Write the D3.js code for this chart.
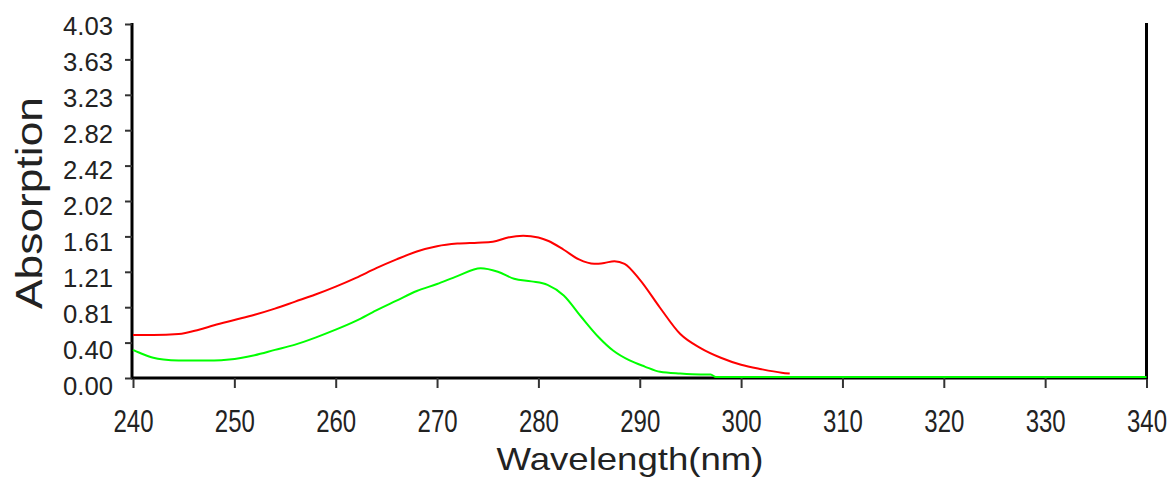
<!DOCTYPE html>
<html>
<head>
<meta charset="utf-8">
<script src="https://cdn.jsdelivr.net/npm/d3@7"></script>
<style>
  body { margin: 0; background: #fff; }
  text { font-family: Arial, "Liberation Sans", sans-serif; fill: #222; }
</style>
</head>
<body>
<svg id="chart" width="1171" height="484"></svg>
<script>
// tick values / labels
const xTicks = [240, 250, 260, 270, 280, 290, 300, 310, 320, 330, 340]
const yTickValues = [0, 0.403, 0.806, 1.209, 1.612, 2.015, 2.418, 2.821, 3.224, 3.627, 4.03]
const yTickLabels = ["0.00", "0.40", "0.81", "1.21", "1.61", "2.02", "2.42", "2.82", "3.23", "3.63", "4.03"]

// red spectrum
const redWave = [240, 242, 244.5, 246.5, 248, 250, 252, 254, 256, 258, 260, 262, 264, 266, 268,
    270, 272, 274, 275.5, 277, 278.5, 280, 281, 282.5, 284, 285.5, 286.5, 287.5, 288.5, 290, 292,
    294, 296, 298, 300, 302, 304, 304.8]
const redAbs = [0.49, 0.49, 0.50, 0.55, 0.60, 0.66, 0.72, 0.79, 0.87, 0.95, 1.04, 1.14, 1.25, 1.35, 1.44,
    1.50, 1.53, 1.54, 1.55, 1.60, 1.62, 1.60, 1.56, 1.46, 1.35, 1.30, 1.31, 1.33, 1.30, 1.12, 0.80,
    0.50, 0.34, 0.23, 0.15, 0.10, 0.06, 0.05]

// green spectrum
const greenWave = [240, 241, 242, 243, 244.5, 246, 248, 249.5, 252, 254, 256, 258, 260, 262, 264,
    266, 268, 270, 272, 274.3, 276, 277.6, 279.3, 280.9, 282.5, 284.2, 285.9, 287.4, 289, 290.5,
    292, 294, 296, 297, 297.5, 300, 310, 320, 330, 340]
const greenAbs = [0.32, 0.27, 0.23, 0.21, 0.20, 0.20, 0.20, 0.21, 0.26, 0.32, 0.38, 0.46, 0.55, 0.65, 0.77,
    0.88, 0.99, 1.07, 1.16, 1.25, 1.21, 1.13, 1.10, 1.06, 0.94, 0.70, 0.47, 0.31, 0.20, 0.13,
    0.07, 0.05, 0.04, 0.04, 0.01, 0.01, 0.01, 0.01, 0.01, 0.01]

const svg = d3.select('#chart')

let x = d3.scaleLinear().domain([240, 340]).range([133, 1146.5])
let y = d3.scaleLinear().domain([0, 4.03]).range([378, 24])
// the label column is spaced a little wider than the ticks in the original
let labelY = d3.scaleLinear().domain([0, 4.03]).range([386, 26.5])

// x axis
let xAxis = svg.append('g')
    .attr('transform', 'translate(0,378)')
    .call(d3.axisBottom(x).tickValues(xTicks).tickFormat(d3.format('d')).tickSize(10).tickSizeOuter(0).tickPadding(22))
xAxis.select('.domain').attr('stroke', '#000').attr('stroke-width', 3).attr('d', 'M131,0H1148')
xAxis.selectAll('.tick line').attr('stroke', '#333').attr('stroke-width', 2)
// labels in the original are drawn taller than they are wide
xAxis.selectAll('.tick text')
    .style('font-size', '24px')
    .attr('fill', '#333')
    .attr('y', 32 / 1.27)
    .attr('transform', 'scale(1,1.27)')

// y axis
let yAxis = svg.append('g')
    .attr('transform', 'translate(132,0)')
    .call(d3.axisLeft(y).tickValues(yTickValues).tickFormat((d, i) => yTickLabels[i]).tickSize(7).tickSizeOuter(0).tickPadding(12))
yAxis.select('.domain').attr('stroke', '#000').attr('stroke-width', 3).attr('d', 'M0,23V379')
yAxis.selectAll('.tick line').attr('stroke', '#333').attr('stroke-width', 2)
yAxis.selectAll('.tick text')
    .style('font-size', '25px')
    .attr('fill', '#333')
    .attr('y', d => labelY(d) - y(d))
    .attr('textLength', 50)
    .attr('lengthAdjust', 'spacingAndGlyphs')

// right frame line
svg.append('line')
    .attr('x1', x(340)).attr('x2', x(340))
    .attr('y1', 23).attr('y2', 379)
    .attr('stroke', '#000')
    .attr('stroke-width', 3)

// spectra
let line = d3.line()
    .x(d => x(d[0]))
    .y(d => y(d[1]))
    .curve(d3.curveMonotoneX)

svg.append('path')
    .datum(redWave.map((w, i) => [w, redAbs[i]]))
    .attr('d', line)
    .attr('fill', 'none')
    .attr('stroke', '#ff0000')
    .attr('stroke-width', 2)

svg.append('path')
    .datum(greenWave.map((w, i) => [w, greenAbs[i]]))
    .attr('d', line)
    .attr('fill', 'none')
    .attr('stroke', '#00ff00')
    .attr('stroke-width', 2)

// axis titles
svg.append('text')
    .attr('x', 630)
    .attr('y', 470)
    .attr('text-anchor', 'middle')
    .attr('textLength', 267)
    .attr('lengthAdjust', 'spacingAndGlyphs')
    .style('font-size', '32px')
    .text('Wavelength(nm)')

svg.append('text')
    .attr('transform', 'translate(42,203) rotate(-90)')
    .attr('text-anchor', 'middle')
    .attr('textLength', 212)
    .attr('lengthAdjust', 'spacingAndGlyphs')
    .style('font-size', '37px')
    .text('Absorption')
</script>
</body>
</html>
